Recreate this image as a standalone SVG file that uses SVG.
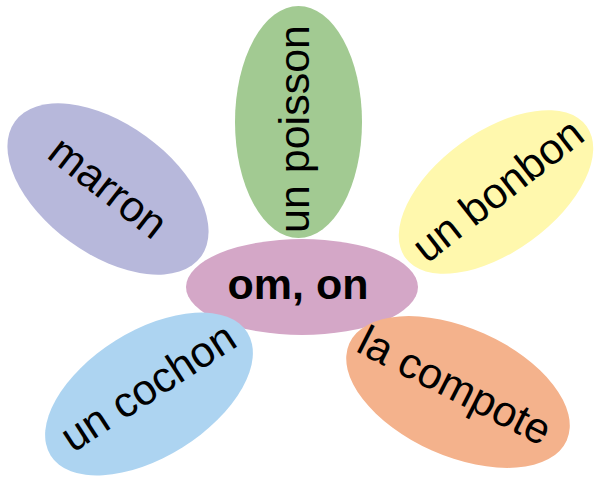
<svg xmlns="http://www.w3.org/2000/svg" width="594" height="477" viewBox="0 0 594 477">
<style>
.lbl{font-family:"Liberation Sans",Arial,sans-serif;font-size:43px;fill:#000;text-anchor:middle}
.ctr{font-family:"Liberation Sans",Arial,sans-serif;font-size:43px;font-weight:bold;fill:#000;text-anchor:middle}
</style>
<rect width="594" height="477" fill="#fff"/>
<g id="center">
<ellipse cx="302" cy="287" rx="116" ry="48" fill="#d4a7c7"/>
<text class="ctr" x="298" y="299">om, on</text>
</g>
<g id="poisson">
<ellipse cx="298.5" cy="122" rx="63.5" ry="116" fill="#a2ca92"/>
<text class="lbl" transform="translate(298,129) rotate(-90)" x="0" y="11">un poisson</text>
</g>
<g id="marron">
<ellipse cx="0" cy="0" rx="115" ry="65" fill="#b7b8db" transform="translate(108,189) rotate(36)"/>
<text class="lbl" transform="translate(106,190) rotate(38)" x="0" y="11">marron</text>
</g>
<g id="bonbon">
<ellipse cx="0" cy="0" rx="112" ry="60" fill="#fff8ad" transform="translate(496,192) rotate(-36)"/>
<text class="lbl" transform="translate(500,193) rotate(-38)" x="0" y="11">un bonbon</text>
</g>
<g id="cochon">
<ellipse cx="0" cy="0" rx="116" ry="63" fill="#add4f1" transform="translate(149,394) rotate(-32)"/>
<text class="lbl" transform="translate(150,390) rotate(-33)" x="0" y="11">un cochon</text>
</g>
<g id="compote">
<ellipse cx="0" cy="0" rx="119" ry="64" fill="#f4b28c" transform="translate(458,392) rotate(24)"/>
<text class="lbl" transform="translate(454,387) rotate(27)" x="0" y="13">la compote</text>
</g>
<g id="connectors"></g>
</svg>
